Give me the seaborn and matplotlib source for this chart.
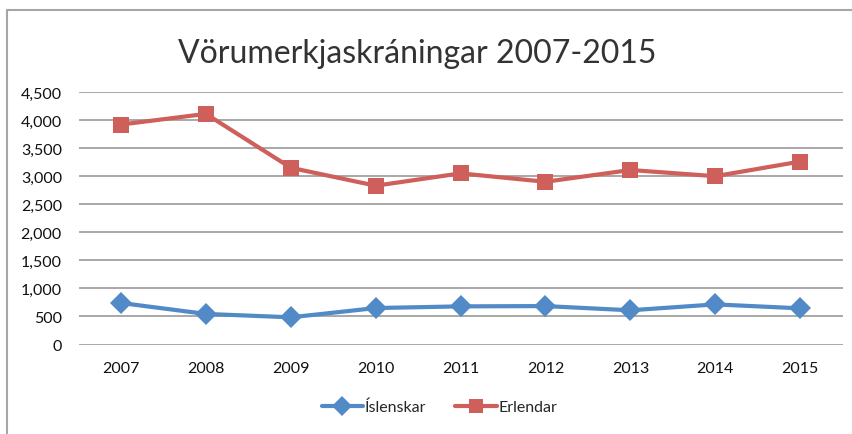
import matplotlib
matplotlib.use('Agg')
import matplotlib.pyplot as plt
import seaborn as sns
import pandas as pd
from matplotlib.lines import Line2D

years = ['2007', '2008', '2009', '2010', '2011', '2012', '2013', '2014', '2015']
islenskar = [740, 545, 485, 650, 680, 685, 610, 715, 645]
erlendar = [3920, 4110, 3150, 2830, 3050, 2900, 3110, 3000, 3260]

series_names = ['Íslenskar', 'Erlendar']
colors = ['#5289C7', '#CF5F5A']

df = pd.DataFrame({
    'year': years * 2,
    'count': islenskar + erlendar,
    'series': [series_names[0]] * len(years) + [series_names[1]] * len(years),
})

sns.set_style('white')
plt.rcParams['font.family'] = ['Lato', 'DejaVu Sans']

fig = plt.figure(figsize=(8.53, 4.35), dpi=100)
ax = fig.add_axes([0.0921, 0.2057, 0.8957, 0.5805])

sns.lineplot(data=df, x='year', y='count', hue='series', style='series',
             markers=['D', 's'], dashes=False, palette=colors,
             linewidth=3, markersize=11, markeredgewidth=0,
             legend=False, ax=ax)

ax.set_xlim(-0.5, len(years) - 0.5)
ax.set_ylim(0, 4500)
ax.set_yticks(range(0, 4501, 500))
ax.yaxis.set_major_formatter(matplotlib.ticker.StrMethodFormatter('{x:,.0f}'))
ax.grid(axis='y', color='#999999', linewidth=1.2)
ax.set_axisbelow(True)
for s in ax.spines.values():
    s.set_visible(False)
ax.tick_params(axis='both', length=0, labelsize=11.5, colors='#111111')
ax.tick_params(axis='y', pad=12)
ax.tick_params(axis='x', pad=12)
ax.set_xlabel('')
ax.set_ylabel('')

fig.text(0.489, 0.8545, 'Vörumerkjaskráningar 2007-2015', ha='center',
         va='baseline', fontsize=23, color='#333333')

handles = [Line2D([], [], color=colors[0], marker='D', lw=3, markersize=10, markeredgewidth=0),
           Line2D([], [], color=colors[1], marker='s', lw=3, markersize=10, markeredgewidth=0)]
fig.legend(handles, series_names, loc='center', bbox_to_anchor=(0.515, 0.062),
           ncol=2, frameon=False, fontsize=11.5, handlelength=2.6,
           handletextpad=0.1, columnspacing=1.8)

# chart frame (top and left edge)
fig.add_artist(Line2D([7 / 853, 1], [1 - 11 / 435, 1 - 11 / 435],
                      transform=fig.transFigure, color='#a6a6a6', lw=1.5))
fig.add_artist(Line2D([7 / 853, 7 / 853], [0, 1 - 11 / 435],
                      transform=fig.transFigure, color='#a6a6a6', lw=1.5))

fig.savefig('out.png', dpi=100)
